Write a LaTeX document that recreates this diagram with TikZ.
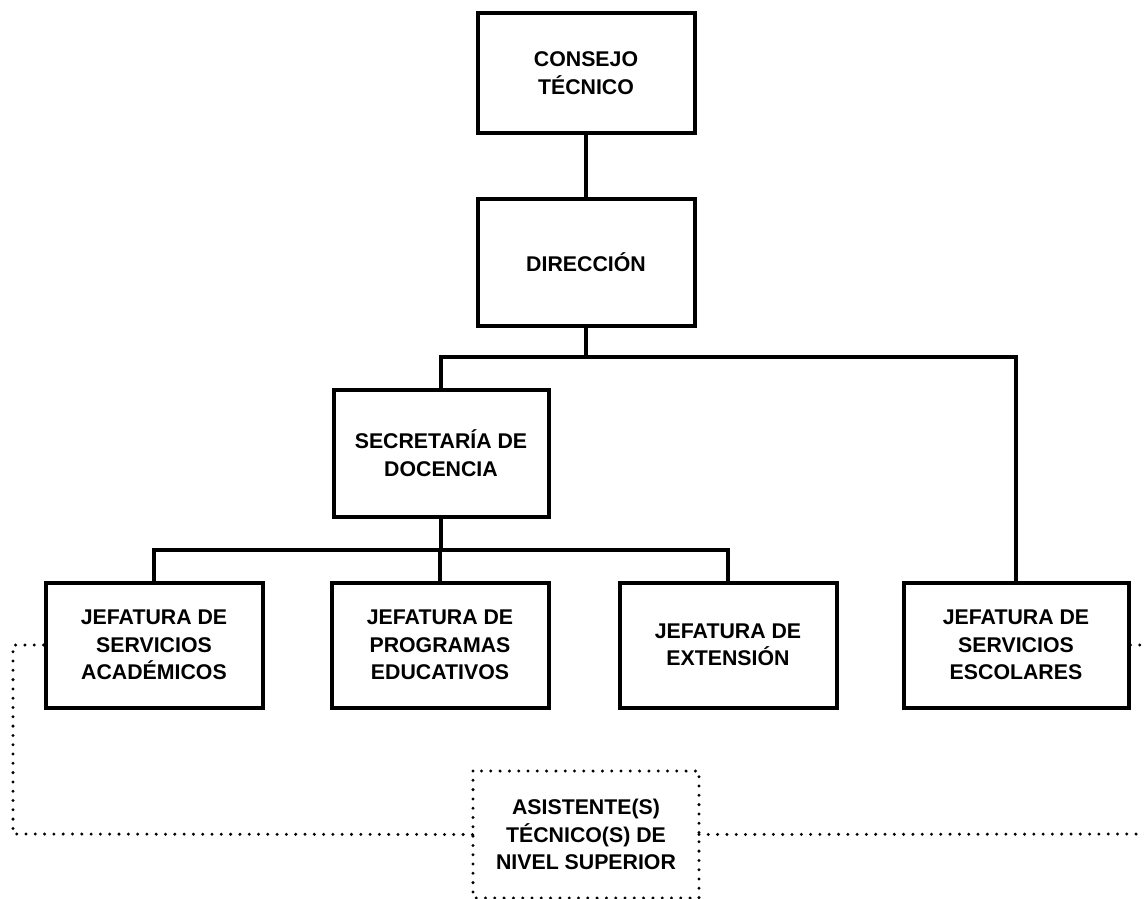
\documentclass[tikz,border=0pt]{standalone}
\usepackage{fontspec}
\setmainfont{Liberation Sans}
\begin{document}
\begin{tikzpicture}[x=1pt,y=-1pt,
  orgbox/.style={draw=black, line width=4pt, minimum width=#1, align=center,
    font=\fontsize{21.3}{27.5}\selectfont\bfseries, inner sep=0pt},
  orgbox/.default=217pt,
  conn/.style={line width=4pt, line cap=rect},
  dotline/.style={line width=3.3pt, line cap=round, dash pattern=on 0pt off 9.3pt}]
\useasboundingbox (0,0) rectangle (1144,898);
\node[orgbox, minimum height=120pt] (ct) at (586,73) {CONSEJO\\TÉCNICO};
\node[orgbox, minimum height=127pt] (dir) at (586,262) {DIRECCIÓN};
\node[orgbox=215pt, minimum height=127pt] (sec) at (441,453) {SECRETARÍA DE\\DOCENCIA};
\node[orgbox, minimum height=125pt] (jsa) at (154,645) {JEFATURA DE\\SERVICIOS\\ACADÉMICOS};
\node[orgbox, minimum height=125pt] (jpe) at (440,645) {JEFATURA DE\\PROGRAMAS\\EDUCATIVOS};
\node[orgbox, minimum height=125pt] (je) at (728,645) {JEFATURA DE\\EXTENSIÓN};
\node[orgbox=225pt, minimum height=125pt] (jse) at (1016,645) {JEFATURA DE\\SERVICIOS\\ESCOLARES};
\node[orgbox=222pt, draw=none, minimum height=123pt] (as) at (586,834.5) {ASISTENTE(S)\\TÉCNICO(S) DE\\NIVEL SUPERIOR};
\draw[dotline] (as.north west) rectangle (as.south east);
\coordinate (b1) at (586,357);
\coordinate (b2) at (441,550);
\coordinate (lc) at (13,834);
\coordinate (re1) at (1146,645);
\coordinate (re2) at (1146,834);
\draw[conn] (ct.south) -- (dir.north);
\draw[conn] (dir.south) -- (dir.south |- b1);
\draw[conn] (sec.north) |- (b1) -| (jse.north);
\draw[conn] (sec.south) -- (sec.south |- b2);
\draw[conn] (jsa.north) |- (b2) -| (je.north);
\draw[conn] (jpe.north |- b2) -- (jpe.north);
\draw[dotline] (jsa.west) -| (lc) -- (as.west);
\draw[dotline] (as.east) -- (re2);
\draw[dotline] (jse.east) -- (re1);
\end{tikzpicture}
\end{document}
